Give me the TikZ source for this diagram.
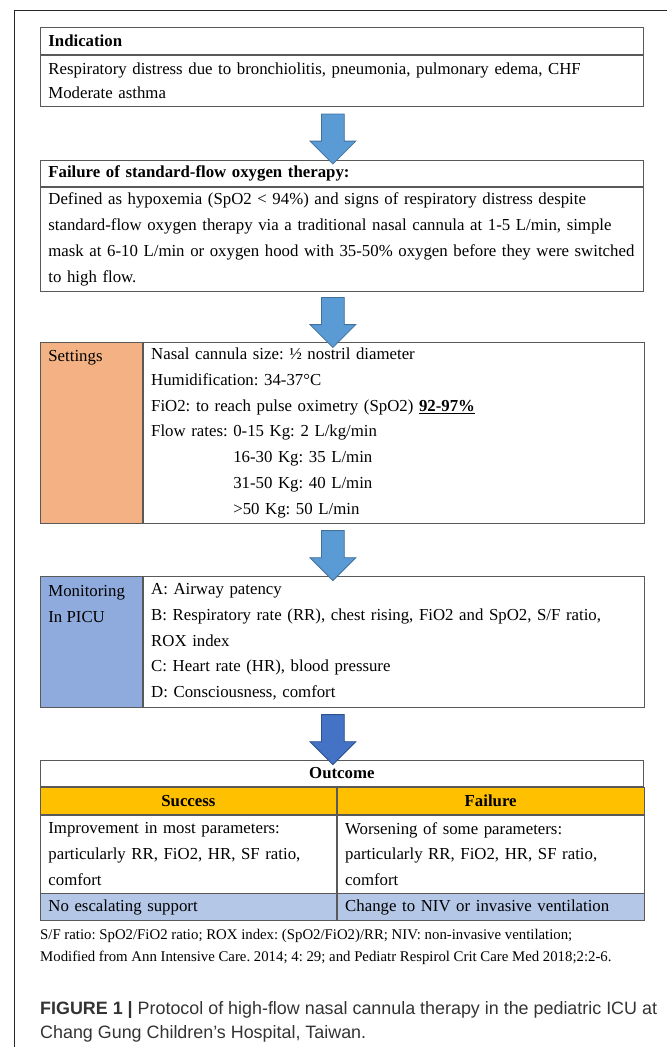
\documentclass[tikz,border=0pt]{standalone}
\usepackage{fontspec}
\setmainfont{Liberation Serif}
\newfontfamily\capfont{Liberation Sans}
\usetikzlibrary{positioning,calc,shapes.arrows}
\definecolor{arrowblue}{HTML}{5B9BD5}
\definecolor{arrowline}{HTML}{41719C}
\definecolor{darkarrow}{HTML}{4472C4}
\definecolor{darkline}{HTML}{2F528F}
\definecolor{setorange}{HTML}{F4B183}
\definecolor{monblue}{HTML}{8FAADC}
\definecolor{gold}{HTML}{FFC000}
\definecolor{resblue}{HTML}{B4C7E7}
\definecolor{boxline}{HTML}{595959}
\definecolor{captext}{HTML}{333333}
\frenchspacing
\begin{document}
\begin{tikzpicture}[x=1pt,y=-1pt,
    cell/.style={draw=boxline, line width=0.8pt, anchor=north west, inner xsep=8pt, inner ysep=0pt,
      align=left, font=\fontsize{16.8}{25.8}\selectfont},
    headcell/.style={cell, align=center, font=\fontsize{16.8}{25.8}\selectfont\bfseries},
    downarrow/.style={single arrow, draw=arrowline, fill=arrowblue, line width=0.8pt,
      shape border rotate=270, minimum height=50pt, minimum width=45pt,
      single arrow head extend=11.5pt, single arrow tip angle=90, inner sep=0pt, xshift=-9pt}]
  \useasboundingbox (0,0) rectangle (667,1047);
  % frame
  \draw[line width=1pt, black!85] (667,10) -- (14,10) -- (14,1047);
  % indication
  \node[cell, text width=587pt, minimum height=27pt] (ind) at (40,27) {\textbf{Indication}};
  \node[cell, text width=587pt, minimum height=51pt, font=\fontsize{16.8}{24}\selectfont] (indtxt) at (ind.south west)
    {Respiratory distress due to bronchiolitis, pneumonia, pulmonary edema, CHF\\Moderate asthma};
  % failure of standard flow
  \node[cell, text width=587pt, minimum height=26pt] (fail) at (40,160) {\textbf{Failure of standard-flow oxygen therapy:}};
  \node[cell, text width=587pt, minimum height=104pt] (failtxt) at (fail.south west)
    {Defined as hypoxemia (SpO2 < 94\%) and signs of respiratory distress despite\\
     standard-flow oxygen therapy via a traditional nasal cannula at 1-5 L/min, simple\\
     mask at 6-10 L/min or oxygen hood with 35-50\% oxygen before they were switched\\
     to high flow.};
  % settings
  \node[cell, fill=setorange, text width=86pt, minimum height=181pt] (setl) at (40,342) {};
  \node[cell, draw=none, anchor=base west, inner xsep=0pt] (setlab) at ([xshift=8pt,yshift=-19.5pt]setl.north west) {Settings};
  \node[cell, text width=485pt, minimum height=181pt] (setr) at (setl.north east)
    {Nasal cannula size: ½ nostril diameter\\
     Humidification: 34-37°C\\
     FiO2: to reach pulse oximetry (SpO2) \underline{\textbf{92-97\%}}\\
     Flow rates: 0-15 Kg: 2 L/kg/min\\
     \hphantom{Flow rates:}\ 16-30 Kg: 35 L/min\\
     \hphantom{Flow rates:}\ 31-50 Kg: 40 L/min\\
     \hphantom{Flow rates:}\ >50 Kg: 50 L/min};
  % monitoring
  \node[cell, fill=monblue, text width=86pt, minimum height=131pt] (monl) at (40,576) {};
  \node[cell, draw=none, anchor=base west, inner xsep=0pt] (monlab) at ([xshift=8pt,yshift=-46.3pt]monl.north west) {Monitoring\\In PICU};
  \node[cell, text width=485pt, minimum height=131pt] (monr) at (monl.north east)
    {A: Airway patency\\
     B: Respiratory rate (RR), chest rising, FiO2 and SpO2, S/F ratio,\\
     ROX index\\
     C: Heart rate (HR), blood pressure\\
     D: Consciousness, comfort};
  % outcome
  \node[headcell, text width=587pt, minimum height=26pt] (outh) at (40,760) {Outcome};
  \node[headcell, fill=gold, text width=280pt, minimum height=27pt] (succh) at (outh.south west) {Success};
  \node[headcell, fill=gold, text width=291pt, minimum height=27pt] (failh) at (succh.north east) {Failure};
  \node[cell, text width=280pt, minimum height=78pt] (succb) at (succh.south west)
    {Improvement in most parameters:\\particularly RR, FiO2, HR, SF ratio,\\comfort};
  \node[cell, text width=291pt, minimum height=78pt] (failb) at (succb.north east)
    {Worsening of some parameters:\\particularly RR, FiO2, HR, SF ratio,\\comfort};
  \node[cell, fill=resblue, text width=280pt, minimum height=27pt] (succr) at (succb.south west) {No escalating support};
  \node[cell, fill=resblue, text width=291pt, minimum height=27pt] (failr) at (succr.north east) {Change to NIV or invasive ventilation};
  % arrows
  \node[downarrow] (a1) at ($(indtxt.south)!0.5!(fail.north)$) {\rule{22pt}{0pt}};
  \node[downarrow] (a2) at ($(failtxt.south)!0.5!(setr.north -| failtxt.south)$) {\rule{22pt}{0pt}};
  \node[downarrow] (a3) at ($(setr.south -| failtxt.south)!0.5!(monr.north -| failtxt.south)$) {\rule{22pt}{0pt}};
  \node[downarrow, fill=darkarrow, draw=darkline] (a4) at ($(monr.south -| failtxt.south)!0.5!(outh.north)$) {\rule{22pt}{0pt}};
  % notes
  \node[anchor=west, inner sep=0pt, font=\fontsize{14.8}{20}\selectfont] (note1) at (40,936)
    {S/F ratio: SpO2/FiO2 ratio; ROX index: (SpO2/FiO2)/RR; NIV: non-invasive ventilation;};
  \node[anchor=west, inner sep=0pt, font=\fontsize{14.8}{20}\selectfont] (note2) at (40,958)
    {Modified from Ann Intensive Care. 2014; 4: 29; and Pediatr Respirol Crit Care Med 2018;2:2-6.};
  % caption
  \node[anchor=north west, inner sep=0pt, align=left, text=captext, font=\capfont\fontsize{17.9}{24}\selectfont] (cap) at (40,1001)
    {\textbf{FIGURE 1 |} Protocol of high-flow nasal cannula therapy in the pediatric ICU at\\
     Chang Gung Children’s Hospital, Taiwan.};
\end{tikzpicture}
\end{document}
